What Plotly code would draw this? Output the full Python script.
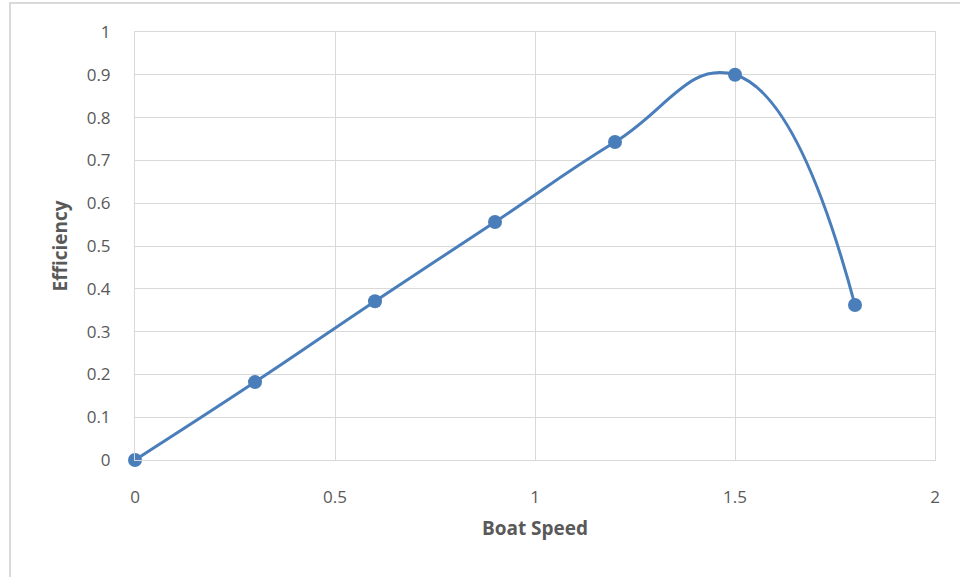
import plotly.graph_objects as go

boat_speed = [0, 0.3, 0.6, 0.9, 1.2, 1.5, 1.8]
efficiency = [0, 0.182, 0.371, 0.556, 0.743, 0.90, 0.362]

x_ticks = [0, 0.5, 1, 1.5, 2]
y_ticks = [0, 0.1, 0.2, 0.3, 0.4, 0.5, 0.6, 0.7, 0.8, 0.9, 1]

blue = "#4a7ebb"
grid = "#d9d9d9"
font_family = "Open Sans, Liberation Sans, sans-serif"

fig = go.Figure()
fig.add_trace(go.Scatter(
    x=boat_speed, y=efficiency, mode="lines+markers",
    line=dict(color=blue, width=3, shape="spline", smoothing=1.3),
    marker=dict(color=blue, size=14),
    cliponaxis=False,
    showlegend=False,
))

fig.update_layout(
    width=960, height=577,
    margin=dict(l=135, r=25, t=32, b=117),
    paper_bgcolor="white", plot_bgcolor="white",
    font=dict(family=font_family, color="#595959", size=17),
    xaxis=dict(
        range=[0, 2], tickvals=x_ticks, ticktext=[str(v) for v in x_ticks],
        showgrid=True, gridcolor=grid, gridwidth=1,
        showline=True, linecolor=grid, linewidth=1, mirror=True,
        zeroline=False, ticks="", ticklabelstandoff=22,
        title=dict(text="<b>Boat Speed</b>", font=dict(size=19, color="#595959"), standoff=14),
    ),
    yaxis=dict(
        range=[0, 1], tickvals=y_ticks, ticktext=[f"{v:g}" for v in y_ticks],
        showgrid=True, gridcolor=grid, gridwidth=1,
        showline=True, linecolor=grid, linewidth=1, mirror=True,
        zeroline=False, ticks="", ticklabelstandoff=20,
        title=dict(text="<b>Efficiency</b>", font=dict(size=19, color="#595959"), standoff=14),
    ),
    shapes=[dict(
        type="rect", xref="paper", yref="paper",
        x0=(10 - 135) / 800, x1=(975 - 135) / 800,
        y0=(460 - 590) / 428, y1=(460 - 3) / 428,
        line=dict(color=grid, width=2), fillcolor="rgba(0,0,0,0)", layer="below",
    )],
)

fig.write_html("out.html")
